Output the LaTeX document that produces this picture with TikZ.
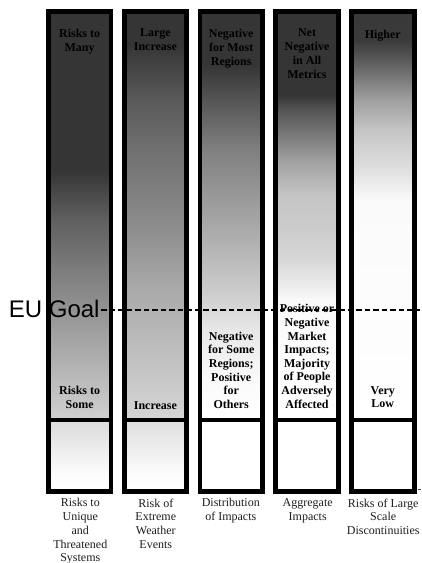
\documentclass[tikz,border=0pt]{standalone}
\usepackage{fontspec}
\setmainfont{Liberation Serif}
\newfontfamily\goalfont{Liberation Sans}
% upper cells (shading 25bp = bottom of cell, 75bp = top of cell)
\pgfdeclareverticalshading{shOne}{100bp}{rgb(0bp)=(0.816,0.816,0.816); rgb(25bp)=(0.816,0.816,0.816); rgb(40.86bp)=(0.533,0.533,0.533); rgb(49.51bp)=(0.376,0.376,0.376); rgb(55.68bp)=(0.208,0.208,0.208); rgb(100bp)=(0.208,0.208,0.208)}
\pgfdeclareverticalshading{shTwo}{100bp}{rgb(0bp)=(0.835,0.835,0.835); rgb(25bp)=(0.835,0.835,0.835); rgb(40.86bp)=(0.667,0.667,0.667); rgb(49.51bp)=(0.541,0.541,0.541); rgb(58.15bp)=(0.439,0.439,0.439); rgb(64.32bp)=(0.353,0.353,0.353); rgb(71.11bp)=(0.208,0.208,0.208); rgb(100bp)=(0.208,0.208,0.208)}
\pgfdeclareverticalshading{shThree}{100bp}{rgb(0bp)=(1,1,1); rgb(25bp)=(1,1,1); rgb(29.8bp)=(0.98,0.98,0.98); rgb(35.9bp)=(0.91,0.91,0.91); rgb(39.63bp)=(0.82,0.82,0.82); rgb(49.51bp)=(0.647,0.647,0.647); rgb(58.15bp)=(0.502,0.502,0.502); rgb(64.32bp)=(0.333,0.333,0.333); rgb(68.64bp)=(0.208,0.208,0.208); rgb(100bp)=(0.208,0.208,0.208)}
\pgfdeclareverticalshading{shFour}{100bp}{rgb(0bp)=(1,1,1); rgb(25bp)=(1,1,1); rgb(39.63bp)=(0.98,0.98,0.98); rgb(40.86bp)=(0.941,0.941,0.941); rgb(44.57bp)=(0.847,0.847,0.847); rgb(48.27bp)=(0.8,0.8,0.8); rgb(52.59bp)=(0.773,0.773,0.773); rgb(56.91bp)=(0.627,0.627,0.627); rgb(60.62bp)=(0.447,0.447,0.447); rgb(63.09bp)=(0.333,0.333,0.333); rgb(64.94bp)=(0.208,0.208,0.208); rgb(100bp)=(0.208,0.208,0.208)}
\pgfdeclareverticalshading{shFive}{100bp}{rgb(0bp)=(1,1,1); rgb(25bp)=(1,1,1); rgb(51.98bp)=(0.98,0.98,0.98); rgb(55.68bp)=(0.878,0.878,0.878); rgb(60.62bp)=(0.773,0.773,0.773); rgb(64.32bp)=(0.627,0.627,0.627); rgb(69.26bp)=(0.353,0.353,0.353); rgb(71.73bp)=(0.227,0.227,0.227); rgb(100bp)=(0.208,0.208,0.208)}
% lower cells
\pgfdeclareverticalshading{shOneB}{100bp}{rgb(0bp)=(1,1,1); rgb(25bp)=(1,1,1); rgb(39.44bp)=(0.98,0.98,0.98); rgb(57.96bp)=(0.918,0.918,0.918); rgb(75bp)=(0.863,0.863,0.863); rgb(100bp)=(0.863,0.863,0.863)}
\pgfdeclareverticalshading{shTwoB}{100bp}{rgb(0bp)=(1,1,1); rgb(25bp)=(1,1,1); rgb(39.44bp)=(0.98,0.98,0.98); rgb(57.96bp)=(0.925,0.925,0.925); rgb(75bp)=(0.878,0.878,0.878); rgb(100bp)=(0.878,0.878,0.878)}
\pgfdeclareverticalshading{shWhite}{100bp}{rgb(0bp)=(1,1,1); rgb(100bp)=(1,1,1)}
\definecolor{labeltext}{HTML}{000000}
\definecolor{captext}{HTML}{1E1E1E}
\begin{document}
\begin{tikzpicture}[x=1bp,y=-1bp,
  colframe/.style={draw=black, line width=4.7bp},
  toplabel/.style={font=\bfseries\fontsize{12bp}{14bp}\selectfont, text=labeltext, align=center, anchor=north, inner sep=0pt, execute at begin node=\strut},
  lowlabel/.style={font=\bfseries\fontsize{12bp}{13.6bp}\selectfont, text=labeltext, align=center, anchor=north, inner sep=0pt, execute at begin node=\strut},
  caption/.style={font=\fontsize{12bp}{13.7bp}\selectfont, text=captext, align=center, anchor=north, inner sep=0pt, execute at begin node=\strut},
  goalline/.style={draw=black, line width=1.2bp, dash pattern=on 5.5bp off 3bp}]
\useasboundingbox[fill=white] (0,0) rectangle (421,563);
% columns
\foreach \x/\shu/\shl in {46/shOne/shOneB, 121.8/shTwo/shTwoB, 197.6/shThree/shWhite, 273.4/shFour/shWhite, 349.2/shFive/shWhite}{
  \fill[shading=\shu] (\x+2,13.5) rectangle (\x+65.3,418.5);
  \fill[shading=\shl] (\x+2,422) rectangle (\x+65.3,489.5);
  \draw[colframe] (\x+2.35,11.35) rectangle (\x+64.95,491.15);
  \draw[colframe] (\x+2.35,420) -- (\x+64.95,420);
}
% top labels
\node[toplabel] (t1) at (79.6,28.9) {Risks to\\Many};
\node[toplabel] (t2) at (155.4,28.9) {Large\\Increase};
\node[toplabel] (t3) at (231.2,28.9) {Negative\\for Most\\Regions};
\node[toplabel] (t4) at (307.0,28.9) {Net\\Negative\\in All\\Metrics};
\node[toplabel] (t5) at (382.8,28.9) {Higher};
% lower labels
\node[lowlabel] (l1) at (79.6,386.1) {Risks to\\Some};
\node[lowlabel] (l2) at (155.4,399.7) {Increase};
\node[lowlabel] (l3) at (231.2,331.7) {Negative\\for Some\\Regions;\\Positive\\for\\Others};
\node[lowlabel] (l4) at (307.0,304.4) {Positive or\\Negative\\Market\\Impacts;\\Majority\\of People\\Adversely\\Affected};
\node[lowlabel] (l5) at (382.8,386.1) {Very\\Low};
% captions
\node[caption] (c1) at (80.3,498.4) {Risks to\\Unique\\and\\Threatened\\Systems};
\node[caption] (c2) at (155.8,498.4) {Risk of\\Extreme\\Weather\\Events};
\node[caption] (c3) at (230.8,498.4) {Distribution\\of Impacts};
\node[caption] (c4) at (307.7,498.4) {Aggregate\\Impacts};
\node[caption] (c5) at (383.2,498.4) {Risks of Large\\Scale\\Discontinuities};
% EU goal
\node[anchor=base west, inner sep=0pt, font=\goalfont\fontsize{24bp}{26bp}\selectfont] (goal) at (8.7,317.3) {EU Goal};
\coordinate (goalend) at (419.5,310);
\draw[goalline] (goal.east |- goalend) ++(1.5,0) -- (goalend);
% small tick at lower right
\coordinate (tickA) at (418,489.5);
\coordinate (tickB) at (421,489.5);
\draw[black!70, line width=0.8bp] (tickA) -- (tickB);
\end{tikzpicture}
\end{document}
